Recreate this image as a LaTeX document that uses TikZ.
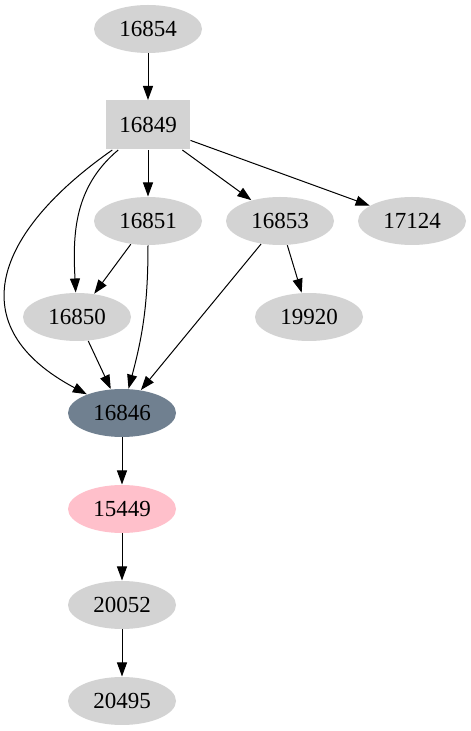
\documentclass[tikz,border=0pt]{standalone}
\usepackage{fontspec}
\setmainfont{Liberation Serif}
\usepackage{tikz}
\usetikzlibrary{arrows.meta,shapes.geometric}

\definecolor{nodegray}{HTML}{D3D3D3}
\definecolor{slategray}{HTML}{708090}
\definecolor{lightpink}{HTML}{FFC0CB}

\begin{document}
\begin{tikzpicture}[x=1pt,y=1pt,->,>={Triangle[length=14pt,width=10pt]},
                    line width=1pt, font=\fontsize{23}{27}\selectfont]
  \tikzstyle{pkg}=[ellipse,fill=nodegray,text=black,inner sep=0pt,
                   minimum width=108pt,minimum height=48pt]
  \tikzstyle{pkgbox}=[rectangle,fill=nodegray,text=black,inner sep=0pt,
                   minimum width=84pt,minimum height=49pt]

  \useasboundingbox (0,0) rectangle (471,731);

  \node[pkg]                  (n16854) at (148,702) {16854};
  \node[pkgbox]               (n16849) at (148,606) {16849};
  \node[pkg]                  (n16851) at (148,510) {16851};
  \node[pkg]                  (n16853) at (280,510) {16853};
  \node[pkg]                  (n17124) at (412,510) {17124};
  \node[pkg]                  (n16850) at (77,414)  {16850};
  \node[pkg]                  (n19920) at (309,414) {19920};
  \node[pkg,fill=slategray]   (n16846) at (122,318) {16846};
  \node[pkg,fill=lightpink]   (n15449) at (122,222) {15449};
  \node[pkg]                  (n20052) at (122,126) {20052};
  \node[pkg]                  (n20495) at (122,30)  {20495};

  \path (n16854) edge (n16849)
        (n16849) edge (n16851)
                 edge (n16853)
                 edge (n17124)
                 edge [out=220,in=93] (n16850)
                 edge [out=215,in=152,looseness=1.5] (n16846)
        (n16851) edge (n16850)
                 edge [out=-90,in=75] (n16846)
        (n16850) edge (n16846)
        (n16853) edge (n16846)
                 edge (n19920)
        (n16846) edge (n15449)
        (n15449) edge (n20052)
        (n20052) edge (n20495);
\end{tikzpicture}
\end{document}
